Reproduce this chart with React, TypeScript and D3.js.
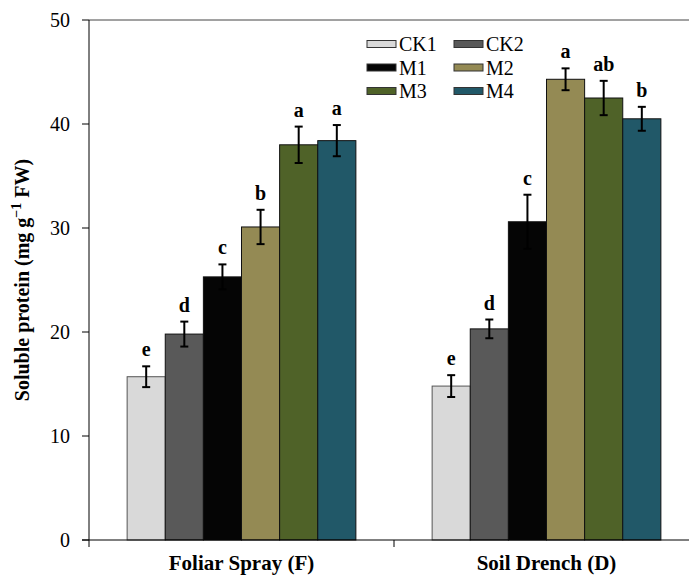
import { scaleBand, scaleLinear } from "d3";
import React from "react";

const groups = ["Foliar Spray (F)", "Soil Drench (D)"];
const treatments = ["CK1", "CK2", "M1", "M2", "M3", "M4"];
const colors = ["#d9d9d9", "#595959", "#050505", "#948a54", "#4f6228", "#215868"];

const foliarMeans = [15.7, 19.8, 25.3, 30.1, 38.0, 38.4];
const foliarErrors = [1.0, 1.2, 1.2, 1.65, 1.75, 1.5];
const foliarLetters = ["e", "d", "c", "b", "a", "a"];

const drenchMeans = [14.8, 20.3, 30.6, 44.3, 42.5, 40.5];
const drenchErrors = [1.05, 0.9, 2.6, 1.05, 1.65, 1.15];
const drenchLetters = ["e", "d", "c", "a", "ab", "b"];

const yTicks = [0, 10, 20, 30, 40, 50];

const font = "Liberation Serif, DejaVu Serif, serif";

const App = () => {
  const width = 689;
  const height = 575;
  const left = 89;
  const top = 20;
  const bottom = 540;

  const rows = [
    { group: groups[0], means: foliarMeans, errors: foliarErrors, letters: foliarLetters },
    { group: groups[1], means: drenchMeans, errors: drenchErrors, letters: drenchLetters },
  ];

  const yScale = scaleLinear().domain([0, 50]).range([bottom, top]);

  // second band runs past the right edge like the original
  const xScale = scaleBand()
    .domain(groups)
    .range([left, 699])
    .paddingInner(0.25)
    .paddingOuter(0.125);
  const xInner = scaleBand().domain(treatments).range([0, xScale.bandwidth()]);

  const txt = { fontFamily: font };

  return (
    <svg
      width={width}
      height={height}
      style={{ position: "absolute", left: 0, top: 0, background: "#fff", fontFamily: font }}
    >
      {/* frame */}
      <line x1={left} x2={width} y1={top} y2={top} stroke="#444" />

      {/* bars */}
      {rows.map((row) =>
        treatments.map((t, i) => {
          const x = xScale(row.group) + xInner(t);
          const y = yScale(row.means[i]);
          return (
            <rect
              key={row.group + t}
              x={x}
              y={y}
              width={xInner.bandwidth()}
              height={bottom - y}
              fill={colors[i]}
              stroke={i === 0 ? "#555" : "#111"}
              strokeWidth={1}
            />
          );
        })
      )}

      {/* error bars + letters */}
      {rows.map((row) =>
        treatments.map((t, i) => {
          const cx = xScale(row.group) + xInner(t) + xInner.bandwidth() / 2;
          const hi = yScale(row.means[i] + row.errors[i]);
          const lo = yScale(row.means[i] - row.errors[i]);
          return (
            <g key={"e" + row.group + t}>
              <line x1={cx} x2={cx} y1={hi} y2={lo} stroke="#000" strokeWidth={2} />
              <line x1={cx - 4} x2={cx + 4} y1={hi} y2={hi} stroke="#000" strokeWidth={2} />
              <line x1={cx - 4} x2={cx + 4} y1={lo} y2={lo} stroke="#000" strokeWidth={2} />
              <text
                x={cx}
                y={hi - 10}
                textAnchor="middle"
                fontSize={20}
                fontWeight="bold"
                style={txt}
              >
                {row.letters[i]}
              </text>
            </g>
          );
        })
      )}

      {/* y axis */}
      <line x1={left} x2={left} y1={top} y2={bottom} stroke="#000" />
      {yTicks.map((v) => (
        <g key={v}>
          <line x1={left - 7} x2={left} y1={yScale(v)} y2={yScale(v)} stroke="#000" />
          <text
            x={left - 19}
            y={yScale(v)}
            dy="0.35em"
            textAnchor="end"
            fontSize={20}
            style={txt}
          >
            {v}
          </text>
        </g>
      ))}
      <text
        transform={`translate(22,${(top + bottom) / 2}) rotate(-90)`}
        textAnchor="middle"
        dy="0.35em"
        fontSize={20}
        fontWeight="bold"
        style={txt}
      >
        Soluble protein (mg g
        <tspan dy="-8" fontSize={14}>−1</tspan>
        <tspan dy="8"> FW)</tspan>
      </text>

      {/* x axis */}
      <line x1={left - 7} x2={width} y1={bottom} y2={bottom} stroke="#000" />
      {[left, xScale.step() + left].map((x) => (
        <line key={x} x1={x} x2={x} y1={bottom} y2={bottom + 7} stroke="#000" />
      ))}
      {groups.map((g) => (
        <text
          key={g}
          x={xScale(g) + xScale.bandwidth() / 2}
          y={570}
          textAnchor="middle"
          fontSize={21}
          fontWeight="bold"
          style={txt}
        >
          {g}
        </text>
      ))}

      {/* legend */}
      {treatments.map((t, i) => {
        const col = i % 2;
        const row = Math.floor(i / 2);
        const lx = 367 + col * 87;
        const ly = 44 + row * 23.5;
        return (
          <g key={"l" + t}>
            <rect x={lx} y={ly - 3.5} width={29} height={7} fill={colors[i]} stroke="#333" />
            <text x={lx + 32} y={ly} dy="0.35em" fontSize={20} style={txt}>
              {t}
            </text>
          </g>
        );
      })}
    </svg>
  );
};

export default App;
